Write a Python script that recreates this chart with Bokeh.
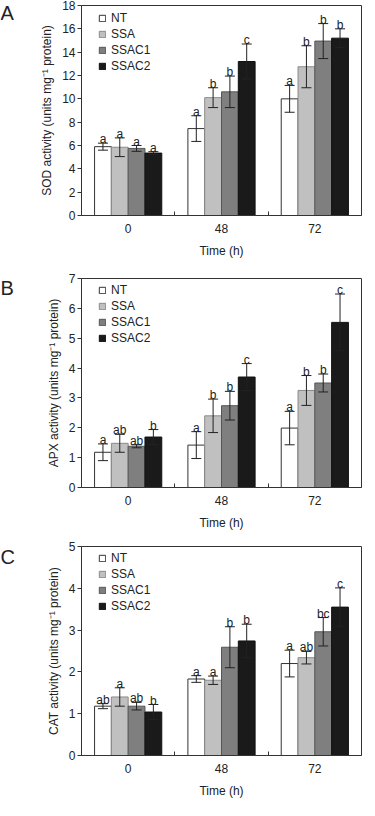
from bokeh.plotting import figure
from bokeh.models import (ColumnDataSource, Range1d, FixedTicker, Whisker, TeeHead,
                          Legend, LegendItem, Label)
from bokeh.layouts import column, row
from bokeh.core.properties import value
from bokeh.embed import file_html
from bokeh.resources import INLINE

FONT = "Liberation Sans"

times = ["0", "48", "72"]
series = ["NT", "SSA", "SSAC1", "SSAC2"]

# ---- Panel A: SOD ----
sod_mean = {
    "NT":    [5.9, 7.45, 10.0],
    "SSA":   [5.85, 10.1, 12.75],
    "SSAC1": [5.75, 10.6, 14.95],
    "SSAC2": [5.35, 13.2, 15.2],
}
sod_err = {
    "NT":    [0.3, 1.1, 1.15],
    "SSA":   [0.8, 0.85, 1.8],
    "SSAC1": [0.25, 1.35, 1.5],
    "SSAC2": [0.12, 1.5, 0.8],
}
sod_sig = {
    "NT":    ["a", "a", "a"],
    "SSA":   ["a", "b", "b"],
    "SSAC1": ["a", "b", "b"],
    "SSAC2": ["a", "c", "b"],
}

# ---- Panel B: APX ----
apx_mean = {
    "NT":    [1.18, 1.42, 1.99],
    "SSA":   [1.48, 2.4, 3.25],
    "SSAC1": [1.38, 2.74, 3.5],
    "SSAC2": [1.69, 3.7, 5.53],
}
apx_err = {
    "NT":    [0.28, 0.45, 0.56],
    "SSA":   [0.3, 0.56, 0.5],
    "SSAC1": [0.05, 0.48, 0.3],
    "SSAC2": [0.25, 0.45, 0.95],
}
apx_sig = {
    "NT":    ["a", "a", "a"],
    "SSA":   ["ab", "b", "b"],
    "SSAC1": ["ab", "b", "b"],
    "SSAC2": ["b", "c", "c"],
}

# ---- Panel C: CAT ----
cat_mean = {
    "NT":    [1.18, 1.83, 2.2],
    "SSA":   [1.4, 1.8, 2.34],
    "SSAC1": [1.18, 2.59, 2.96],
    "SSAC2": [1.04, 2.74, 3.55],
}
cat_err = {
    "NT":    [0.06, 0.08, 0.32],
    "SSA":   [0.22, 0.1, 0.15],
    "SSAC1": [0.09, 0.49, 0.34],
    "SSAC2": [0.18, 0.4, 0.46],
}
cat_sig = {
    "NT":    ["ab", "a", "a"],
    "SSA":   ["a", "a", "ab"],
    "SSAC1": ["ab", "b", "bc"],
    "SSAC2": ["b", "b", "c"],
}

# styles
OFFSETS = [-0.27, -0.09, 0.09, 0.27]
BAR_W = 0.18
FILLS = ["#ffffff", "#c0c0c0", "#7f7f7f", "#1a1a1a"]
LINES = ["#333333", "#8a8a8a", "#555555", "#111111"]
INK = "#222222"
FRAME = "#333333"
LETTER_W = 16
FIG_W = 362 - LETTER_W
LEFT = 81 - LETTER_W
RIGHT = 1


def make_letter(letter, height, center_from_top):
    f = figure(width=LETTER_W, height=height, output_backend="svg", toolbar_location=None,
               x_range=Range1d(0, LETTER_W), y_range=Range1d(0, height),
               min_border=0, x_axis_type=None, y_axis_type=None)
    f.outline_line_color = None
    f.xgrid.visible = False
    f.ygrid.visible = False
    f.border_fill_color = "white"
    f.background_fill_color = "white"
    f.add_layout(Label(x=0, y=height - center_from_top, text=letter, text_font=FONT,
                       text_font_size="20px", text_baseline="middle",
                       text_align="left", text_color=INK))
    return f


def make_panel(ylabel, ymax, ystep, means, errs, sig, height, top, bottom):
    p = figure(width=FIG_W, height=height, output_backend="svg", toolbar_location=None,
               x_range=Range1d(-0.5, 2.5), y_range=Range1d(0, ymax),
               min_border_left=LEFT, min_border_right=RIGHT,
               min_border_top=top, min_border_bottom=bottom)
    frame_h = height - top - bottom
    p.xgrid.visible = False
    p.ygrid.visible = False
    p.outline_line_color = FRAME
    p.outline_line_width = 1
    p.background_fill_color = "white"
    p.border_fill_color = "white"

    items = []
    for k, s in enumerate(series):
        xs = [i + OFFSETS[k] for i in range(len(times))]
        m = means[s]
        e = errs[s]
        src = ColumnDataSource(dict(
            x=xs, top=m,
            upper=[a + b for a, b in zip(m, e)],
            lower=[a - b for a, b in zip(m, e)],
            lab=sig[s]))
        r = p.vbar(x="x", top="top", width=BAR_W, source=src,
                   fill_color=FILLS[k], line_color=LINES[k], line_width=1)
        items.append(LegendItem(label=s, renderers=[r]))
        w = Whisker(base="x", upper="upper", lower="lower", source=src,
                    dimension="height", line_color=INK, line_width=1, level="annotation",
                    upper_head=TeeHead(size=10, line_color=INK, line_width=1),
                    lower_head=TeeHead(size=10, line_color=INK, line_width=1))
        p.add_layout(w)
        p.text(x="x", y="upper", text="lab", source=src, text_align="center",
               text_baseline="alphabetic", y_offset=-4, text_font=value(FONT),
               text_font_size="12px", text_color=INK)

    legend_h = 4 * 14 + 3 * 2
    leg = Legend(items=items, location=(17, frame_h - 6 - legend_h),
                 glyph_width=8, glyph_height=8, label_height=14, spacing=2,
                 padding=0, margin=0, label_standoff=5,
                 label_text_font=FONT, label_text_font_size="12px",
                 label_text_color=INK, border_line_color=None,
                 background_fill_alpha=0)
    p.add_layout(leg)

    # x axis
    xa = p.xaxis[0]
    xa.ticker = FixedTicker(ticks=[0, 1, 2], minor_ticks=[0.5, 1.5])
    xa.major_label_overrides = {i: t for i, t in enumerate(times)}
    xa.major_tick_in = 0
    xa.major_tick_out = 0
    xa.minor_tick_in = 4
    xa.minor_tick_out = 0
    xa.minor_tick_line_color = FRAME
    xa.axis_line_color = FRAME
    xa.axis_label = "Time (h)"
    xa.major_label_standoff = 8
    xa.axis_label_standoff = 8

    # y axis
    ya = p.yaxis[0]
    ya.ticker = FixedTicker(ticks=list(range(0, ymax + 1, ystep)))
    ya.major_tick_in = 0
    ya.major_tick_out = 4
    ya.minor_tick_line_color = None
    ya.major_tick_line_color = FRAME
    ya.axis_line_color = FRAME
    ya.axis_label = ylabel
    ya.major_label_standoff = 2
    ya.axis_label_standoff = 5

    for ax in (xa, ya):
        ax.major_label_text_font = FONT
        ax.major_label_text_font_size = "12px"
        ax.major_label_text_color = INK
        ax.axis_label_text_font = FONT
        ax.axis_label_text_font_size = "12px"
        ax.axis_label_text_font_style = "normal"
        ax.axis_label_text_color = INK
    return p


pA = make_panel("SOD activity (units mg\u207b\u00b9 protein)", 18, 2,
                sod_mean, sod_err, sod_sig, 266, 5, 51)
pB = make_panel("APX activity (units mg\u207b\u00b9 protein)", 7, 1,
                apx_mean, apx_err, apx_sig, 266, 12, 44)
pC = make_panel("CAT activity (units mg\u207b\u00b9 protein)", 5, 1,
                cat_mean, cat_err, cat_sig, 268, 14, 44)

lA = make_letter("A", 266, 10)
lB = make_letter("B", 266, 12)
lC = make_letter("C", 268, 14)

layout = column(row(lA, pA, spacing=0), row(lB, pB, spacing=0),
                row(lC, pC, spacing=0), spacing=0)
open("out.html", "w").write(file_html(layout, INLINE))
